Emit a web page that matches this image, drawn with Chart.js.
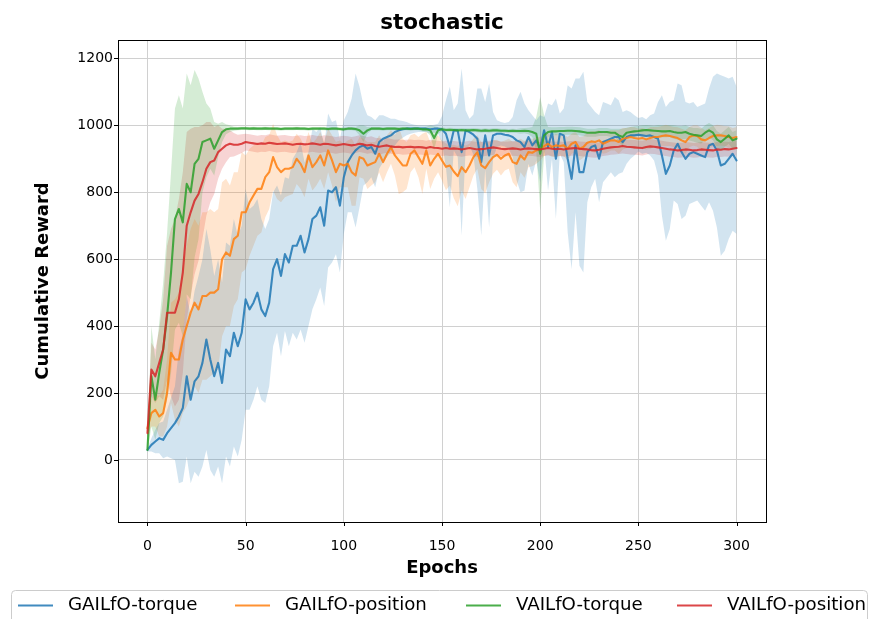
<!DOCTYPE html>
<html>
<head>
<meta charset="utf-8">
<script src="https://cdn.jsdelivr.net/npm/chart.js@4.4.0/dist/chart.umd.min.js"></script>
<style>
  html, body { margin: 0; padding: 0; background: #ffffff; overflow: hidden; }
  canvas { display: block; }
</style>
</head>
<body>
<canvas id="chart" width="870" height="619"></canvas>
<script>
// Training epochs (logged every second epoch)
const epochs = [0,2,4,6,8,10,12,14,16,18,20,22,24,26,28,30,32,34,36,38,40,42,44,46,48,50,52,54,56,58,60,62,64,66,68,70,72,74,76,78,80,82,84,86,88,90,92,94,96,98,100,102,104,106,108,110,112,114,116,118,120,122,124,126,128,130,132,134,136,138,140,142,144,146,148,150,152,154,156,158,160,162,164,166,168,170,172,174,176,178,180,182,184,186,188,190,192,194,196,198,200,202,204,206,208,210,212,214,216,218,220,222,224,226,228,230,232,234,236,238,240,242,244,246,248,250,252,254,256,258,260,262,264,266,268,270,272,274,276,278,280,282,284,286,288,290,292,294,296,298,300];

const seriesNames = ['GAILfO-torque', 'GAILfO-position', 'VAILfO-torque', 'VAILfO-position'];
const seriesColors = [[31,119,180], [255,127,14], [44,160,44], [214,39,40]];
const chartTitle = 'stochastic';

// Mean cumulative reward and its standard deviation, per method
const gailTorqueMean = [30,45,55,65,60,80,95,110,130,155,250,180,235,250,290,360,300,250,290,230,330,310,380,340,380,480,450,470,500,450,430,470,570,600,550,615,590,640,640,670,620,660,720,730,755,700,805,800,815,760,845,890,910,925,935,940,930,935,915,950,960,965,970,980,985,988,990,990,990,990,990,990,988,990,990,988,975,935,985,985,920,985,980,972,960,890,970,910,970,975,975,972,970,965,955,950,935,965,940,955,930,985,935,980,900,975,970,900,840,940,860,860,920,935,940,900,950,955,960,965,965,950,965,970,970,972,970,968,970,965,960,910,855,880,925,945,920,900,915,920,915,910,905,940,945,925,880,885,900,915,895];
const gailTorqueStd = [5,20,35,45,55,70,90,110,200,220,240,250,270,300,310,330,330,300,310,300,320,330,340,330,320,330,300,290,280,270,260,250,230,220,240,230,250,260,280,280,270,260,270,250,240,240,230,210,200,200,170,150,170,230,180,120,100,90,100,80,70,60,50,40,30,25,20,15,12,10,10,10,12,12,15,40,100,180,60,80,250,60,40,60,150,220,100,215,70,40,35,35,40,60,120,150,130,80,90,60,100,40,130,80,180,60,80,220,270,200,280,300,150,120,100,130,120,110,100,120,110,90,80,70,60,50,55,50,60,70,110,180,200,190,150,180,200,170,150,150,140,150,160,170,200,230,270,260,240,230,220];

const gailPositionMean = [95,140,150,130,140,200,320,300,300,360,400,440,470,450,490,490,500,500,510,600,620,610,660,670,740,740,770,790,810,810,845,860,905,875,860,870,870,875,900,885,860,910,875,890,910,880,925,895,860,885,880,885,860,850,905,900,880,885,890,915,890,915,935,910,895,880,880,915,925,905,885,925,880,900,915,895,876,880,862,848,875,860,880,905,920,880,872,890,905,912,900,910,915,890,885,910,898,920,918,925,930,938,945,935,940,938,940,930,945,950,930,935,948,952,950,955,945,950,955,955,950,960,962,965,962,960,962,958,962,965,965,968,970,968,965,962,955,950,965,970,968,958,955,962,968,970,970,968,965,962,965];
const gailPositionStd = [20,40,50,60,70,100,150,180,200,220,240,250,250,250,250,250,250,240,240,230,220,210,200,190,180,170,160,150,140,130,120,110,100,95,90,85,80,80,75,75,75,70,70,70,70,70,65,75,90,70,65,70,100,90,60,60,70,65,60,55,60,55,50,60,100,80,70,55,50,60,90,55,70,60,55,60,70,60,80,90,70,80,65,55,50,70,75,60,50,45,50,45,45,60,70,50,55,45,40,40,35,30,32,30,35,30,32,35,30,30,35,32,30,30,32,30,30,32,30,30,35,32,30,30,32,30,30,30,32,30,30,30,32,30,30,32,35,35,30,30,32,35,30,30,30,32,30,30,32,30,30];

const vailTorqueMean = [30,250,180,260,330,430,560,720,750,710,825,800,885,900,950,955,960,930,955,980,988,990,990,990,991,991,990,991,990,990,991,990,990,990,989,990,990,990,991,990,990,989,990,990,990,990,989,990,990,989,988,990,990,989,985,975,985,990,990,990,989,990,990,990,989,990,990,989,990,990,988,988,985,962,985,988,986,987,986,985,986,985,985,986,985,984,985,984,985,985,984,984,983,984,983,983,984,983,980,975,915,970,980,982,982,983,983,984,984,983,982,980,978,978,978,980,980,980,978,978,970,965,978,980,982,983,985,986,985,984,983,982,982,983,980,978,978,980,975,972,970,968,978,985,978,958,950,960,970,955,960];
const vailTorqueStd = [10,150,120,150,200,250,300,330,340,340,330,320,280,240,150,110,90,80,50,30,15,10,6,5,5,5,5,5,5,5,5,5,5,5,5,5,5,5,5,5,5,5,5,5,5,5,5,5,5,5,6,5,5,6,15,25,10,5,5,5,5,5,5,5,5,5,5,5,5,5,6,8,15,35,10,6,6,6,6,6,6,6,6,6,6,6,6,6,6,6,6,6,6,6,6,8,8,10,15,50,170,60,15,12,12,12,12,12,12,12,12,12,12,12,12,12,12,12,12,12,20,25,15,15,15,15,15,15,15,15,18,18,18,18,20,20,20,20,20,20,22,22,22,22,22,25,25,25,25,25,25];

const vailPositionMean = [80,270,250,290,330,440,440,440,480,560,700,740,775,795,830,870,890,895,920,930,940,945,942,942,945,950,948,946,944,946,945,948,946,944,945,946,944,942,944,945,943,944,946,944,942,945,944,942,940,942,944,942,940,942,945,943,940,942,938,936,938,940,937,935,936,934,935,936,934,935,934,932,935,933,932,930,932,930,931,930,928,930,932,930,928,929,930,932,934,932,930,929,930,931,930,928,930,931,930,929,928,930,932,930,929,930,928,930,931,932,930,929,928,926,925,927,930,932,934,935,936,938,936,935,934,933,932,935,937,936,934,932,930,928,927,925,926,928,927,925,926,928,927,926,925,928,927,929,928,930,932];
const vailPositionStd = [20,80,80,100,150,200,250,280,300,300,280,250,220,200,170,140,120,100,80,60,50,40,35,30,28,25,25,25,25,25,25,25,25,25,25,25,25,25,25,25,25,25,25,25,25,25,25,25,25,25,25,25,25,25,25,25,25,25,25,25,22,22,22,22,22,22,22,22,22,22,22,22,22,22,22,22,22,22,22,22,22,22,22,22,22,22,22,22,22,22,22,22,22,22,22,22,22,22,22,22,22,22,22,22,22,22,22,22,22,22,22,22,22,22,22,22,22,22,22,22,22,22,22,22,22,22,22,22,22,22,22,22,22,22,22,22,22,22,22,22,22,22,22,22,22,22,22,22,22,22,22];

const seriesMeans = [gailTorqueMean, gailPositionMean, vailTorqueMean, vailPositionMean];
const seriesStds = [gailTorqueStd, gailPositionStd, vailTorqueStd, vailPositionStd];

const xTicks = [0, 50, 100, 150, 200, 250, 300];
const yTicks = [0, 200, 400, 600, 800, 1000, 1200];

const FONT = "'DejaVu Sans', 'Liberation Sans', sans-serif";
const rgba = (c, a) => `rgba(${c[0]},${c[1]},${c[2]},${a})`;
const toPoints = (vals) => epochs.map((e, i) => ({ x: e, y: vals[i] }));

// Shaded mean ± std bands first, then the mean curves on top
const datasets = [];
seriesNames.forEach((name, k) => {
  const m = seriesMeans[k], s = seriesStds[k];
  datasets.push({
    label: name + ' lower',
    data: toPoints(m.map((v, i) => v - s[i])),
    borderWidth: 0, pointRadius: 0, fill: false, order: 20 + k
  });
  datasets.push({
    label: name + ' upper',
    data: toPoints(m.map((v, i) => v + s[i])),
    borderWidth: 0, pointRadius: 0, fill: '-1',
    backgroundColor: rgba(seriesColors[k], 0.2), order: 20 + k
  });
});
seriesNames.forEach((name, k) => {
  datasets.push({
    label: name,
    data: toPoints(seriesMeans[k]),
    borderColor: rgba(seriesColors[k], 0.85),
    borderWidth: 2.1, pointRadius: 0, fill: false,
    borderJoinStyle: 'round', borderCapStyle: 'round',
    order: 4 - k
  });
});

// Title centred over the axes, axis frame, outward ticks and the legend box
const decorations = {
  id: 'decorations',
  afterDraw(chart) {
    const { ctx, chartArea: a, scales: { x, y } } = chart;
    ctx.save();

    ctx.fillStyle = '#000000';
    ctx.font = `bold 21.5px ${FONT}`;
    ctx.textAlign = 'center';
    ctx.textBaseline = 'alphabetic';
    ctx.fillText(chartTitle, (a.left + a.right) / 2, 29.3);

    ctx.strokeStyle = '#000000';
    ctx.lineWidth = 1;
    ctx.strokeRect(Math.round(a.left) + 0.5, Math.round(a.top) + 0.5,
                   Math.round(a.right - a.left), Math.round(a.bottom - a.top));
    ctx.beginPath();
    xTicks.forEach(v => {
      const px = Math.round(x.getPixelForValue(v)) + 0.5;
      ctx.moveTo(px, a.bottom); ctx.lineTo(px, a.bottom + 4);
    });
    yTicks.forEach(v => {
      const py = Math.round(y.getPixelForValue(v)) + 0.5;
      ctx.moveTo(a.left - 4, py); ctx.lineTo(a.left, py);
    });
    ctx.stroke();

    // legend
    ctx.fillStyle = 'rgba(255,255,255,0.8)';
    ctx.strokeStyle = '#cccccc';
    ctx.beginPath();
    ctx.roundRect(11.5, 590.5, 856, 40, 4);
    ctx.fill();
    ctx.stroke();
    const textX = [68, 285, 516, 727];
    ctx.font = `18.2px ${FONT}`;
    ctx.textBaseline = 'middle';
    ctx.textAlign = 'left';
    seriesNames.forEach((name, k) => {
      ctx.strokeStyle = rgba(seriesColors[k], 0.85);
      ctx.lineWidth = 2.1;
      ctx.beginPath();
      ctx.moveTo(textX[k] - 50, 605.5);
      ctx.lineTo(textX[k] - 15, 605.5);
      ctx.stroke();
      ctx.fillStyle = '#000000';
      ctx.fillText(name, textX[k], 605.5);
    });
    ctx.restore();
  }
};

new Chart(document.getElementById('chart'), {
  type: 'line',
  data: { datasets },
  plugins: [decorations],
  options: {
    responsive: false,
    animation: false,
    devicePixelRatio: 1,
    layout: { padding: { left: 0, right: 104, top: 40, bottom: 0 } },
    plugins: {
      legend: { display: false },
      tooltip: { enabled: false },
      title: { display: false },
      filler: { drawTime: 'beforeDatasetsDraw' }
    },
    scales: {
      x: {
        type: 'linear',
        min: -15, max: 315,
        afterBuildTicks: (s) => { s.ticks = xTicks.map(v => ({ value: v })); },
        afterFit: (s) => { s.height = 97; },
        ticks: {
          color: '#000000', padding: 16,
          font: { family: FONT, size: 14 },
          callback: (v) => String(v)
        },
        grid: { color: '#d0d0d0', lineWidth: 1, drawTicks: false },
        border: { display: false },
        title: {
          display: true, text: 'Epochs', color: '#000000',
          font: { family: FONT, size: 18, weight: 'bold' },
          padding: { top: 0, bottom: 40 }
        }
      },
      y: {
        type: 'linear',
        min: -185.5, max: 1255,
        afterBuildTicks: (s) => { s.ticks = yTicks.map(v => ({ value: v })); },
        afterFit: (s) => { s.width = 118; },
        ticks: {
          color: '#000000', padding: 5,
          font: { family: FONT, size: 14 },
          callback: (v) => String(v)
        },
        grid: { color: '#d0d0d0', lineWidth: 1, drawTicks: false },
        border: { display: false },
        title: {
          display: true, text: 'Cumulative Reward', color: '#000000',
          font: { family: FONT, size: 18, weight: 'bold' },
          padding: { top: 33, bottom: 0 }
        }
      }
    }
  }
});
</script>
</body>
</html>
